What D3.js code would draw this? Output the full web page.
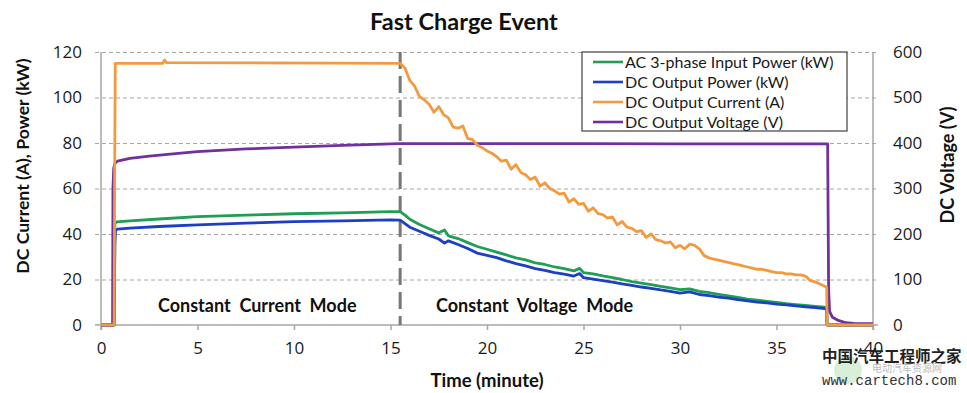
<!DOCTYPE html>
<html>
<head>
<meta charset="utf-8">
<script src="https://cdn.jsdelivr.net/npm/d3@7"></script>
<style>
  html, body { margin: 0; padding: 0; background: #fff; }
  svg { display: block; font-family: Lato, "Open Sans", sans-serif; }
</style>
</head>
<body>
<svg id="chart" width="967" height="393"></svg>
<script>
// ---------------- DATA ----------------
const titleText = "Fast Charge Event";
const xTicks = [0, 5, 10, 15, 20, 25, 30, 35, 40];
const leftTicks = [0, 20, 40, 60, 80, 100, 120];
const rightTicks = [0, 100, 200, 300, 400, 500, 600];
const seriesNames = ["AC 3-phase Input Power (kW)", "DC Output Power (kW)", "DC Output Current (A)", "DC Output Voltage (V)"];
const modeSwitchTime = 15.5;
const modeLabels = ["Constant  Current  Mode", "Constant  Voltage  Mode"];

// DC Output Current (A)
const currentT = [0, 0.68, 0.71, 0.74, 3.2, 3.3, 3.4, 15.5,
  15.75, 16.0, 16.25, 16.5, 16.75, 17.0, 17.25, 17.5, 17.75, 18.0, 18.25, 18.5, 18.75, 19.0, 19.25, 19.5, 19.75,
  20.0, 20.25, 20.5, 20.75, 21.0, 21.25, 21.5, 21.75, 22.0, 22.25, 22.5, 22.75, 23.0, 23.25, 23.5, 23.75,
  24.0, 24.25, 24.5, 24.75, 25.0, 25.25, 25.5, 25.75, 26.0, 26.25, 26.5, 26.75, 27.0, 27.25, 27.5, 27.75,
  28.0, 28.25, 28.5, 28.75, 29.0, 29.25, 29.5, 29.75, 30.0, 30.25, 30.5, 30.75, 31.0, 31.25, 31.5, 31.75,
  32.0, 32.25, 32.5, 32.75, 33.0, 33.25, 33.5, 33.75, 34.0, 34.25, 34.5, 34.75, 35.0, 35.25, 35.5, 35.75,
  36.0, 36.25, 36.5, 36.75, 37.0, 37.25, 37.5, 37.6, 37.62, 40];
const currentA = [0, 0, 70, 115, 115, 116.5, 115.3, 115,
  113, 107.5, 105, 100.5, 99, 97, 93.5, 96, 92.5, 91, 87, 86.5, 87.5, 82, 81.5, 79, 78,
  76.5, 75.5, 74, 72, 72.5, 68.5, 70.5, 67, 66, 64, 65, 61, 62.5, 60, 59, 57.5,
  58, 54, 55.5, 53, 53.5, 50, 51.5, 49, 48.5, 47, 47.5, 44, 45.5, 43, 42.5, 41,
  41.5, 38.5, 40, 37.5, 37, 36, 36.5, 34, 35, 33.5, 35.5, 35, 33.5, 30.5, 29.5, 29,
  28.5, 28, 27.5, 27, 26.5, 26, 25.5, 25, 24.5, 24.5, 24, 23.5, 23, 23, 22.5, 22.5,
  22, 22, 21.5, 19.5, 19, 18, 17, 16.5, 0, 0];

// AC 3-phase Input Power (kW)
const acPowerT = [0, 0.68, 0.72, 0.8, 1.5, 3, 5, 7.5, 10, 12.5, 15, 15.5,
  15.75, 16.0, 16.5, 17.0, 17.5, 17.8, 18.0, 18.5, 19.0, 19.5, 20.0, 20.5, 21.0, 21.5, 22.0, 22.5,
  23.0, 23.5, 24.0, 24.5, 24.8, 25.0, 25.5, 26.0, 26.5, 27.0, 27.5, 28.0, 28.5, 29.0, 29.5, 30.0,
  30.5, 31.0, 31.5, 32.0, 32.5, 33.0, 33.5, 34.0, 34.5, 35.0, 35.5, 36.0, 36.5, 37.0, 37.5, 37.6, 37.62, 40];
const acPower = [0, 0, 44.5, 45.3, 45.8, 46.6, 47.6, 48.3, 48.9, 49.3, 49.8, 49.8,
  48.3, 46.5, 44.2, 42.3, 40.5, 41.8, 39.2, 38.0, 36.2, 34.5, 33.3, 32.0, 30.8, 29.5, 28.6, 27.3,
  26.6, 25.5, 24.8, 23.8, 24.9, 23.0, 22.5, 21.6, 20.8, 20.0, 19.1, 18.4, 17.7, 17.0, 16.3, 15.5,
  15.9, 14.8, 14.2, 13.5, 12.8, 12.1, 11.4, 10.9, 10.4, 9.9, 9.4, 9.0, 8.6, 8.2, 7.8, 7.6, 0, 0];

// DC Output Power (kW)
const dcPowerT = [0, 0.68, 0.72, 0.75, 0.85, 1.5, 3, 5, 7.5, 10, 12.5, 15, 15.5,
  15.75, 16.0, 16.5, 17.0, 17.5, 17.8, 18.0, 18.5, 19.0, 19.5, 20.0, 20.5, 21.0, 21.5, 22.0, 22.5,
  23.0, 23.5, 24.0, 24.5, 24.8, 25.0, 25.5, 26.0, 26.5, 27.0, 27.5, 28.0, 28.5, 29.0, 29.5, 30.0,
  30.5, 31.0, 31.5, 32.0, 32.5, 33.0, 33.5, 34.0, 34.5, 35.0, 35.5, 36.0, 36.5, 37.0, 37.5, 37.6, 37.62, 40];
const dcPower = [0, 0, 36, 41.8, 42.1, 42.6, 43.3, 44.0, 44.8, 45.4, 45.8, 46.2, 46.1,
  44.6, 43.0, 41.2, 39.4, 37.8, 36.0, 37.0, 35.4, 33.6, 31.6, 30.6, 29.6, 28.2, 27.0, 26.0, 24.8,
  24.0, 23.0, 22.4, 21.5, 22.6, 20.8, 20.2, 19.5, 18.8, 18.1, 17.4, 16.7, 16.1, 15.4, 14.8, 14.0,
  14.6, 13.4, 12.9, 12.3, 11.8, 11.2, 10.6, 10.1, 9.7, 9.2, 8.8, 8.4, 8.0, 7.6, 7.2, 7.0, 0, 0];

// DC Output Voltage (V)
const voltageT = [0, 0.6, 0.62, 0.66, 0.72, 0.85, 1.5, 2.5, 4, 5, 7.5, 10, 12.5, 15, 15.5, 20, 25, 30, 35, 37.65,
  37.7, 37.75, 37.9, 38.2, 38.6, 39, 40];
const voltage = [0, 0, 300, 345, 355, 360, 366, 371, 377, 381, 387, 391, 395, 398, 398.5, 398.5, 398.5, 398, 398, 398,
  80, 30, 17, 10, 5, 3.5, 3];

// ---------------- DRAW ----------------
const colors = { ac: "#1f9e55", dc: "#1d3fc4", cur: "#f39a3e", volt: "#7030a0" };
const tickFont = "'Open Sans', Lato, sans-serif";
const svg = d3.select("#chart");
const x = d3.scaleLinear().domain([0, 40]).range([101, 873]);
const yL = d3.scaleLinear().domain([0, 120]).range([325, 52]);
const yR = d3.scaleLinear().domain([0, 600]).range([325, 52]);

// gridlines
const grid = svg.append("g").attr("transform", "translate(95,0)")
  .call(d3.axisRight(yL).tickValues(leftTicks.slice(1)).tickSize(783).tickFormat(""));
grid.select(".domain").remove();
grid.selectAll("line").attr("stroke", "#a6a6a6").attr("stroke-width", 1).attr("stroke-dasharray", "4,3");

// left & right axis lines
svg.append("line").attr("x1", 101).attr("x2", 101).attr("y1", yL(120)).attr("y2", 330)
  .attr("stroke", "#a6a6a6").attr("stroke-width", 1.5);
svg.append("line").attr("x1", 873).attr("x2", 873).attr("y1", yL(120)).attr("y2", 330)
  .attr("stroke", "#a6a6a6").attr("stroke-width", 1.5);

// x axis
const xAxis = svg.append("g").attr("transform", "translate(0,325)")
  .call(d3.axisBottom(x).tickValues(xTicks).tickSize(5).tickPadding(12).tickFormat(d3.format("d")));
xAxis.select(".domain").attr("d", "M95,0H878").attr("stroke", "#a6a6a6").attr("stroke-width", 1.5);
xAxis.selectAll("line").attr("stroke", "#a6a6a6").attr("stroke-width", 1.5);
xAxis.selectAll("text").attr("font-size", 17).attr("fill", "#1a1a1a").style("font-family", tickFont);

// left labels
const lAxis = svg.append("g").attr("transform", "translate(101,0)")
  .call(d3.axisLeft(yL).tickValues(leftTicks).tickSize(0).tickPadding(19));
lAxis.select(".domain").remove();
lAxis.selectAll("text").attr("font-size", 17).attr("fill", "#1a1a1a").style("font-family", tickFont);

// right labels
const rAxis = svg.append("g").attr("transform", "translate(873,0)")
  .call(d3.axisRight(yR).tickValues(rightTicks).tickSize(0).tickPadding(20));
rAxis.select(".domain").remove();
rAxis.selectAll("text").attr("font-size", 17).attr("fill", "#1a1a1a").style("font-family", tickFont);

// mode divider
svg.append("line").attr("x1", x(modeSwitchTime)).attr("x2", x(modeSwitchTime))
  .attr("y1", yL(120)).attr("y2", yL(0))
  .attr("stroke", "#777").attr("stroke-width", 3).attr("stroke-dasharray", "17,7");

// series
function drawLine(ts, vs, yScale, color) {
  const pts = ts.map((t, i) => [t, vs[i]]);
  svg.append("path").datum(pts)
    .attr("fill", "none").attr("stroke", color).attr("stroke-width", 2.8)
    .attr("stroke-linejoin", "round")
    .attr("d", d3.line().x(d => x(d[0])).y(d => yScale(d[1])));
}
drawLine(acPowerT, acPower, yL, colors.ac);
drawLine(dcPowerT, dcPower, yL, colors.dc);
drawLine(voltageT, voltage, yR, colors.volt);
drawLine(currentT, currentA, yL, colors.cur);

// mode labels
svg.append("text").attr("x", 158).attr("y", 312).text(modeLabels[0])
  .attr("font-size", 18).attr("font-weight", "bold").attr("fill", "#111").style("white-space", "pre");
svg.append("text").attr("x", 436).attr("y", 312).text(modeLabels[1])
  .attr("font-size", 18).attr("font-weight", "bold").attr("fill", "#111").style("white-space", "pre");

// title
svg.append("text").attr("x", 464).attr("y", 30).attr("text-anchor", "middle").text(titleText)
  .attr("font-size", 23.5).attr("font-weight", "bold").attr("fill", "#111");

// axis titles
svg.append("text").attr("x", 487).attr("y", 387).attr("text-anchor", "middle").text("Time (minute)")
  .attr("font-size", 18.5).attr("font-weight", "bold").attr("fill", "#111");
svg.append("text").attr("transform", "translate(29,166) rotate(-90)").attr("text-anchor", "middle")
  .text("DC Current (A), Power (kW)").attr("font-size", 17.6).attr("font-weight", "bold").attr("fill", "#111");
svg.append("text").attr("transform", "translate(954,165) rotate(-90)").attr("text-anchor", "middle")
  .text("DC Voltage (V)").attr("font-size", 18).attr("font-weight", "bold").attr("fill", "#111");

// legend
const lg = svg.append("g");
lg.append("rect").attr("x", 582).attr("y", 52).attr("width", 265).attr("height", 79)
  .attr("fill", "#fff").attr("stroke", "#404040").attr("stroke-width", 1.2);
const legColors = [colors.ac, colors.dc, colors.cur, colors.volt];
seriesNames.forEach((n, i) => {
  const yy = 62 + i * 20;
  lg.append("line").attr("x1", 593).attr("x2", 623).attr("y1", yy).attr("y2", yy)
    .attr("stroke", legColors[i]).attr("stroke-width", 2.6);
  lg.append("text").attr("x", 625).attr("y", yy + 5.5).text(n)
    .attr("font-size", 16).attr("fill", "#1a1a1a");
});

// watermark
svg.append("circle").attr("cx", 848).attr("cy", 370).attr("r", 14).attr("fill", "#8fd18f").attr("opacity", 0.35);
svg.append("text").attr("x", 822).attr("y", 362).text("中国汽车工程师之家")
  .attr("font-size", 15.5).attr("font-weight", "bold").attr("fill", "#222").style("font-family", "'Noto Sans CJK SC'");
svg.append("text").attr("x", 872).attr("y", 372).text("电动汽车资源网")
  .attr("font-size", 10).attr("fill", "#bbb").style("font-family", "'Noto Sans CJK SC'");
svg.append("text").attr("x", 822).attr("y", 385).text("www.cartech8.com")
  .attr("font-size", 14).attr("fill", "#333").style("font-family", "'Liberation Mono', 'DejaVu Sans Mono', monospace");
</script>
</body>
</html>
